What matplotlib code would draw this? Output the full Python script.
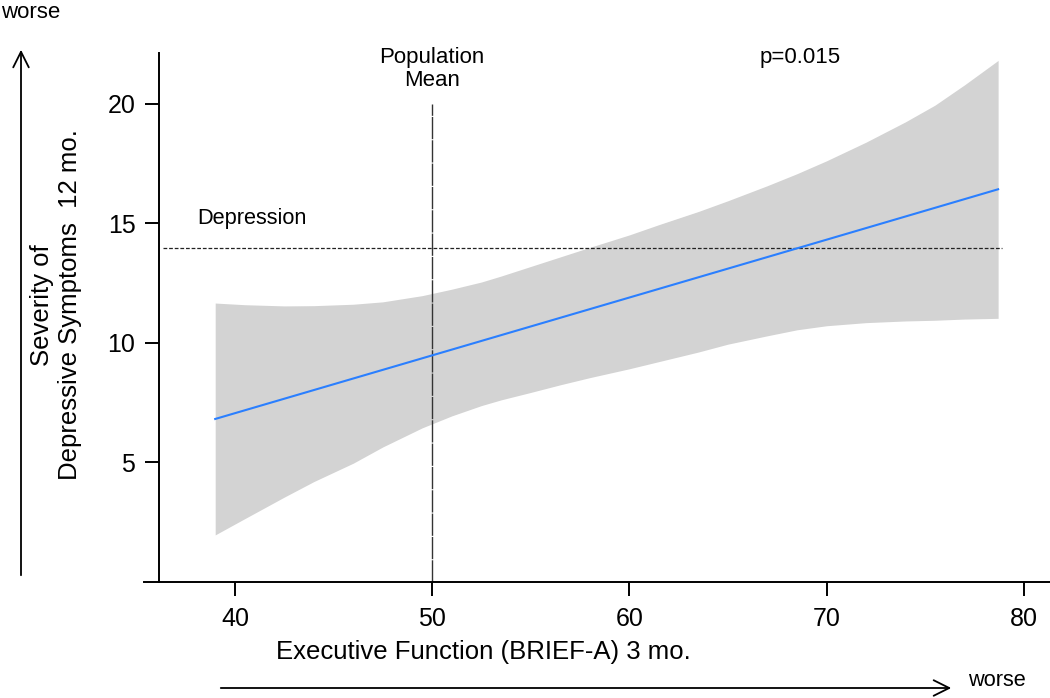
import matplotlib
matplotlib.use("Agg")
import matplotlib.pyplot as plt

plt.rcParams['font.family'] = ['Liberation Sans', 'DejaVu Sans']

# fitted line (BRIEF-A 3 mo. -> depressive symptoms 12 mo.)
fit_x = [39, 50, 60, 70, 78.7]
fit_y = [6.82, 9.48, 11.90, 14.32, 16.43]

# confidence band
band_x = [39, 40.5, 42.5, 44, 46, 47.5, 49.5, 51, 52.5, 53.5, 55, 56.5, 58, 60,
          61.5, 63.5, 65, 67, 68.5, 70, 72, 74, 75.5, 77, 78.7]
band_hi = [11.67, 11.6, 11.55, 11.56, 11.62, 11.72, 11.98, 12.25, 12.55, 12.8,
           13.2, 13.6, 14.0, 14.52, 14.95, 15.5, 15.95, 16.58, 17.08, 17.62, 18.4,
           19.25, 19.95, 20.8, 21.82]
band_lo = [1.97, 2.65, 3.55, 4.2, 4.97, 5.65, 6.45, 6.95, 7.38, 7.62, 7.93,
           8.25, 8.55, 8.92, 9.22, 9.62, 9.95, 10.3, 10.55, 10.72, 10.85, 10.92,
           10.95, 11.0, 11.03]

pop_mean = 50
depression_cut = 13.96
xticks = [40, 50, 60, 70, 80]
yticks = [5, 10, 15, 20]

W, H = 1050, 698
fig = plt.figure(figsize=(W / 100, H / 100), dpi=100)
ax = fig.add_axes([144 / W, (H - 582) / H, 906 / W, 529 / H])

ax.fill_between(band_x, band_lo, band_hi, color='#d3d3d3', linewidth=0, zorder=1)
ax.plot(fit_x, fit_y, color='#2a7fff', linewidth=1.5, zorder=3)
ax.plot([36.35, 78.9], [depression_cut, depression_cut], color='#222222',
        linewidth=0.9, linestyle=(0, (3, 1.5)), zorder=2)
ax.plot([pop_mean, pop_mean], [0, 20], color='#333333', linewidth=1.0,
        linestyle=(0, (16, 0.8)), zorder=2)

ax.set_xlim(35.39, 81.33)
ax.set_ylim(0, 22.13)
ax.spines['top'].set_visible(False)
ax.spines['right'].set_visible(False)
ax.spines['left'].set_position(('data', 36.15))
for s in ['left', 'bottom']:
    ax.spines[s].set_linewidth(1.4)
ax.set_xticks(xticks)
ax.set_yticks(yticks)
ax.tick_params(axis='both', direction='out', length=10, width=1.4, labelsize=18)
ax.tick_params(axis='x', pad=8)
ax.tick_params(axis='y', pad=7)

ax.text(38.1, 15.2, 'Depression', fontsize=15.7, ha='left', va='center')
ax.text(pop_mean, 22.4, 'Population\nMean', fontsize=16, ha='center', va='top',
        linespacing=1.15)
ax.text(68.65, 22.4, 'p=0.015', fontsize=16, ha='center', va='top')

fig.text(483 / W, 1 - 652 / H, 'Executive Function (BRIEF-A) 3 mo.',
         fontsize=18.5, ha='center', va='center')
fig.text(56 / W, 1 - 305 / H, 'Severity of\nDepressive Symptoms  12 mo.',
         fontsize=18.5, ha='center', va='center', rotation=90,
         multialignment='center', linespacing=1.2)

fig.text(31 / W, 1 - 2 / H, 'worse', fontsize=16, ha='center', va='top')
fig.text(997 / W, 1 - 680 / H, 'worse', fontsize=15.7, ha='center', va='center')

arrow = dict(arrowstyle='->', lw=1.3, color='black', mutation_scale=28)
ax.annotate('', xy=(21, H - 47), xytext=(21, H - 578), xycoords='figure pixels',
            textcoords='figure pixels', arrowprops=arrow, annotation_clip=False)
ax.annotate('', xy=(954, H - 688), xytext=(218, H - 688), xycoords='figure pixels',
            textcoords='figure pixels', arrowprops=arrow, annotation_clip=False)

fig.savefig('out.png', dpi=100)
